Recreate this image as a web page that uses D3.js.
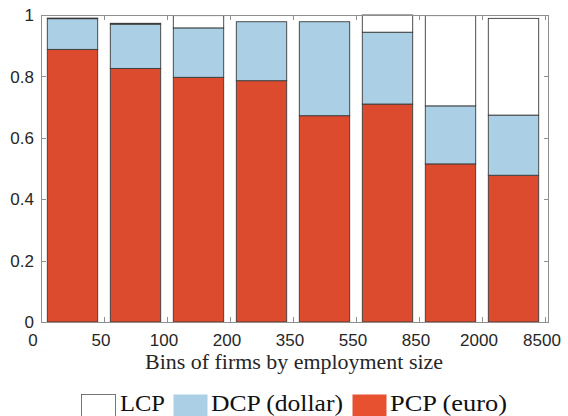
<!DOCTYPE html>
<html><head><meta charset="utf-8">
<script src="https://cdn.jsdelivr.net/npm/d3@7"></script>
<style>body{margin:0;background:#fff}svg{display:block}</style>
</head><body><svg id="c" width="568" height="416"></svg>
<script>
const bins = ["0-50","50-100","100-200","200-350","350-550","550-850","850-2000","2000-8500"];
const binEdges = ["0","50","100","200","350","550","850","2000","8500"];
const pcp = [0.888,0.826,0.797,0.786,0.672,0.710,0.515,0.478];
const dcp = [0.100,0.144,0.161,0.192,0.306,0.234,0.189,0.196];
const lcp = [0.002,0.003,0.040,0.000,0.000,0.056,0.294,0.315];
const yTicks = [0,0.2,0.4,0.6,0.8,1];
const yTickLabels = ["0","0.2","0.4","0.6","0.8","1"];
const seriesNames = ["LCP","DCP (dollar)","PCP (euro)"];
const colors = {pcp:"#dd4b2e", dcp:"#abd0e6", lcp:"#ffffff"};

const svg = d3.select("#c");
const L=41, R=549, T=15, B=322, innerR=545;
const x = d3.scaleBand().domain(bins).range([L, innerR]).paddingInner(0.2).paddingOuter(0.1);
const xe = d3.scaleLinear().domain([0, bins.length]).range([L, innerR]);
const y = d3.scaleLinear().domain([0,1]).range([B, T]);
const textCol = "#262626", frameCol = "#8f8f8f";

// bars
const rows = bins.map((b,i)=>({b, segs:[
  {k:"pcp", y0:0, y1:pcp[i]},
  {k:"dcp", y0:pcp[i], y1:pcp[i]+dcp[i]},
  {k:"lcp", y0:pcp[i]+dcp[i], y1:pcp[i]+dcp[i]+lcp[i]}
]}));
const g = svg.append("g");
rows.forEach(r=>{
  r.segs.forEach(s=>{
    if (s.y1 - s.y0 <= 0) return;
    g.append("rect")
      .attr("x", x(r.b)).attr("width", x.bandwidth())
      .attr("y", y(s.y1)).attr("height", y(s.y0)-y(s.y1))
      .attr("fill", colors[s.k]).attr("stroke","#3a3a3a").attr("stroke-width",0.9);
  });
});

// frame
svg.append("rect").attr("x",L+0.5).attr("y",T+0.5).attr("width",R-L-1).attr("height",B-T)
  .attr("fill","none").attr("stroke",frameCol).attr("stroke-width",1);

// y ticks
yTicks.forEach((t,i)=>{
  const yy = Math.round(y(t))+0.5;
  svg.append("line").attr("x1",L).attr("x2",L+5).attr("y1",yy).attr("y2",yy).attr("stroke",frameCol);
  svg.append("line").attr("x1",R-5).attr("x2",R).attr("y1",yy).attr("y2",yy).attr("stroke",frameCol);
  svg.append("text").attr("x",34).attr("y",y(t)).attr("dy","0.36em").attr("text-anchor","end")
    .attr("font-family","Liberation Sans, Arial, sans-serif").attr("font-size",17).attr("fill",textCol)
    .text(yTickLabels[i]);
});
// x ticks
binEdges.forEach((lab,i)=>{
  const xx = Math.round(xe(i))+0.5;
  svg.append("line").attr("x1",xx).attr("x2",xx).attr("y1",B).attr("y2",B-5).attr("stroke",frameCol);
  svg.append("line").attr("x1",xx).attr("x2",xx).attr("y1",T).attr("y2",T+5).attr("stroke",frameCol);
  svg.append("text").attr("x",xe(i)-(i===0?8:3)).attr("y",346).attr("text-anchor","middle")
    .attr("font-family","Liberation Sans, Arial, sans-serif").attr("font-size",17).attr("fill",textCol)
    .text(lab);
});
// x title
svg.append("text").attr("x",145).attr("y",368.5).attr("textLength",298).attr("lengthAdjust","spacingAndGlyphs")
  .attr("font-family","Liberation Serif, DejaVu Serif, serif").attr("font-size",20).attr("fill",textCol)
  .text("Bins of firms by employment size");

// legend
const leg = [
  {name:seriesNames[0], fill:colors.lcp, bx:81, tx:120, tw:45},
  {name:seriesNames[1], fill:colors.dcp, bx:173, tx:211, tw:132},
  {name:seriesNames[2], fill:"#e8512f", bx:352, tx:390, tw:117}
];
leg.forEach(d=>{
  svg.append("rect").attr("x",d.bx+0.5).attr("y",394.5).attr("width",34).attr("height",30)
    .attr("fill",d.fill).attr("stroke", d.fill==="#ffffff" ? "#555" : "none").attr("stroke-width",0.8);
  svg.append("text").attr("x",d.tx).attr("y",410.5).attr("textLength",d.tw).attr("lengthAdjust","spacingAndGlyphs")
    .attr("font-family","Liberation Serif, DejaVu Serif, serif").attr("font-size",24).attr("fill","#111")
    .text(d.name);
});
</script></body></html>
